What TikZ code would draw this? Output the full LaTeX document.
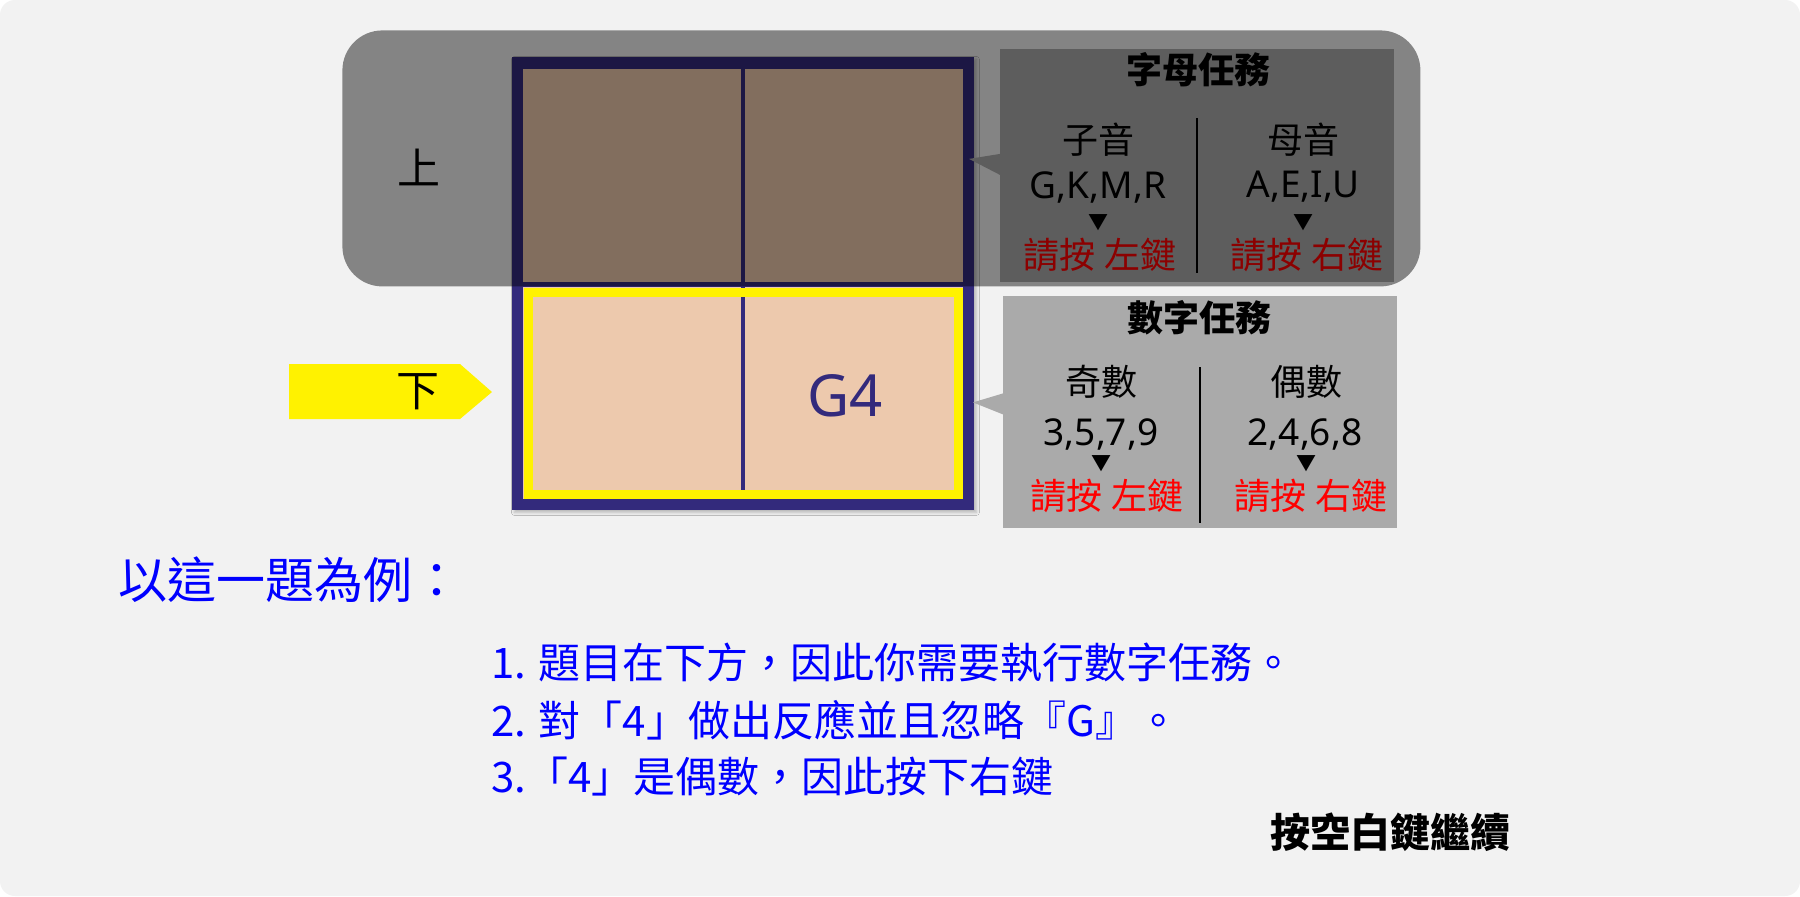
\documentclass[tikz,border=0pt]{standalone}
\usepackage{fontspec}
\setmainfont{Noto Sans CJK TC}
\newfontfamily\latinfont{Noto Sans}
\usetikzlibrary{positioning, fit, shadows.blur}

\definecolor{pagegray}{HTML}{F2F2F2}
\definecolor{gridblue}{RGB}{51,42,124}
\definecolor{cellpeach}{HTML}{EDC9AD}
\definecolor{panelgray}{HTML}{AAAAAA}
\definecolor{hintblue}{HTML}{0000FF}

\newcommand{\fsz}[1]{\fontsize{#1}{1.2\dimexpr#1\relax}\selectfont}

\begin{document}
\begin{tikzpicture}[
    x=0.5pt, y=-0.5pt,
    cell/.style = {fill=cellpeach, inner sep=0pt, minimum width=109pt, minimum height=#1, anchor=north west},
    cell/.default=106.5pt,
    panel/.style = {fill=panelgray, inner sep=0pt, minimum width=197pt, minimum height=#1, anchor=north west},
    tasktitle/.style = {inner sep=0pt, font=\fsz{18pt}\bfseries},
    tasktext/.style = {inner sep=0pt, font=\fsz{18pt}},
    tasklist/.style = {inner sep=0pt, font=\latinfont\fsz{18.5pt}},
    keytext/.style = {inner sep=0pt, font=\fsz{18pt}, text=red},
    pointer/.style = {inner sep=0pt, font=\fsz{10pt}},
    divider/.style = {draw=black, line width=1pt},
    sidelabel/.style = {inner sep=0pt, font=\fsz{21.5pt}},
    hint/.style = {inner sep=0pt, anchor=west, text=hintblue, font=\fsz{#1}},
    hint/.default=21pt
  ]

  % page
  \fill[white] (0,0) rectangle (1800,896);
  \useasboundingbox (0,0) rectangle (1800,896);
  \fill[pagegray, rounded corners=7.5pt] (0,0) rectangle (1800,896);

  % grid
  \node[fill=gridblue, inner sep=0pt, minimum width=231pt, minimum height=226.5pt, anchor=north west,
        blur shadow={shadow xshift=1pt, shadow yshift=-1pt, shadow blur radius=1.5pt, shadow opacity=25}] (grid) at (512,57) {};
  \node[cell] (upL) at (523,69) {};
  \node[cell] (upR) at (745,69) {};
  \node[cell=106pt] (lowL) at (523,287) {};
  \node[cell=106pt] (lowR) at (745,287) {};
  \node[text=gridblue, font=\latinfont\fsz{29pt}, inner sep=0pt] (target) at (845,396) {G4};
  \node[fit=(lowL) (lowR), draw=yellow, line width=4.5pt, inner sep=-2.5pt] (focus) {};

  % letter task
  \node[panel=116.5pt] (letters) at (1000,49) {};
  \fill[panelgray] ([yshift=6pt]letters.west) -- ++(-31,5) -- ([yshift=-4.5pt]letters.west) -- cycle;
  \node[tasktitle] (lettertitle) at (1198,70) {字母任務};
  \node[tasktext] (consonant) at (1098,140) {子音};
  \node[tasktext] (vowel) at (1303,140) {母音};
  \node[tasklist] (conslist) at (1098,187) {G,K,M,R};
  \node[tasklist] (vowlist) at (1303,187) {A,E,I,U};
  \node[pointer] (consdown) at (1098,223) {▼};
  \node[pointer] (vowdown) at (1303,223) {▼};
  \node[keytext] (conskey) at (1100,255) {請按 左鍵};
  \node[keytext] (vowkey) at (1307,255) {請按 右鍵};
  \draw[divider] (1197,118) -- (1197,273);

  % number task
  \node[panel=116pt] (numbers) at (1003,296) {};
  \fill[panelgray] ([yshift=9.5pt]numbers.west) -- ++(-30,9) -- ([yshift=-1pt]numbers.west) -- cycle;
  \node[tasktitle] (numbertitle) at (1199,318) {數字任務};
  \node[tasktext] (odd) at (1101,382) {奇數};
  \node[tasktext] (even) at (1306,382) {偶數};
  \node[tasklist] (oddlist) at (1101,434) {3,5,7,9};
  \node[tasklist] (evenlist) at (1305,434) {2,4,6,8};
  \node[pointer] (odddown) at (1101,464) {▼};
  \node[pointer] (evendown) at (1306,464) {▼};
  \node[keytext] (oddkey) at (1107,496) {請按 左鍵};
  \node[keytext] (evenkey) at (1311,496) {請按 右鍵};
  \draw[divider] (1200,367) -- (1200,523);

  % upper half dimmed
  \node[fill=black, fill opacity=.45, rounded corners=20pt, inner sep=0pt,
        minimum width=539pt, minimum height=128pt, anchor=north west] (upper) at (342,30) {};
  \node[sidelabel] (uplabel) at (419,167) {上};

  % lower half marked
  \fill[yellow] (289,364) -- (460,364) -- (492,392) -- (460,419) -- (289,419) -- cycle;
  \node[sidelabel] (lowlabel) at (418,392) {下};

  % explanation
  \node[hint=24.5pt] (example) at (118,580) {以這一題為例：};
  \node[hint] (stepone) at (491,663) {1. 題目在下方，因此你需要執行數字任務。};
  \node[hint] (steptwo) at (491,720) {2. 對「4」做出反應並且忽略『G』。};
  \node[hint] (stepthree) at (491,777) {3.「4」是偶數，因此按下右鍵};
  \node[inner sep=0pt, anchor=east, font=\fsz{20pt}\bfseries] (continue) at (1511,832) {按空白鍵繼續};

\end{tikzpicture}
\end{document}
